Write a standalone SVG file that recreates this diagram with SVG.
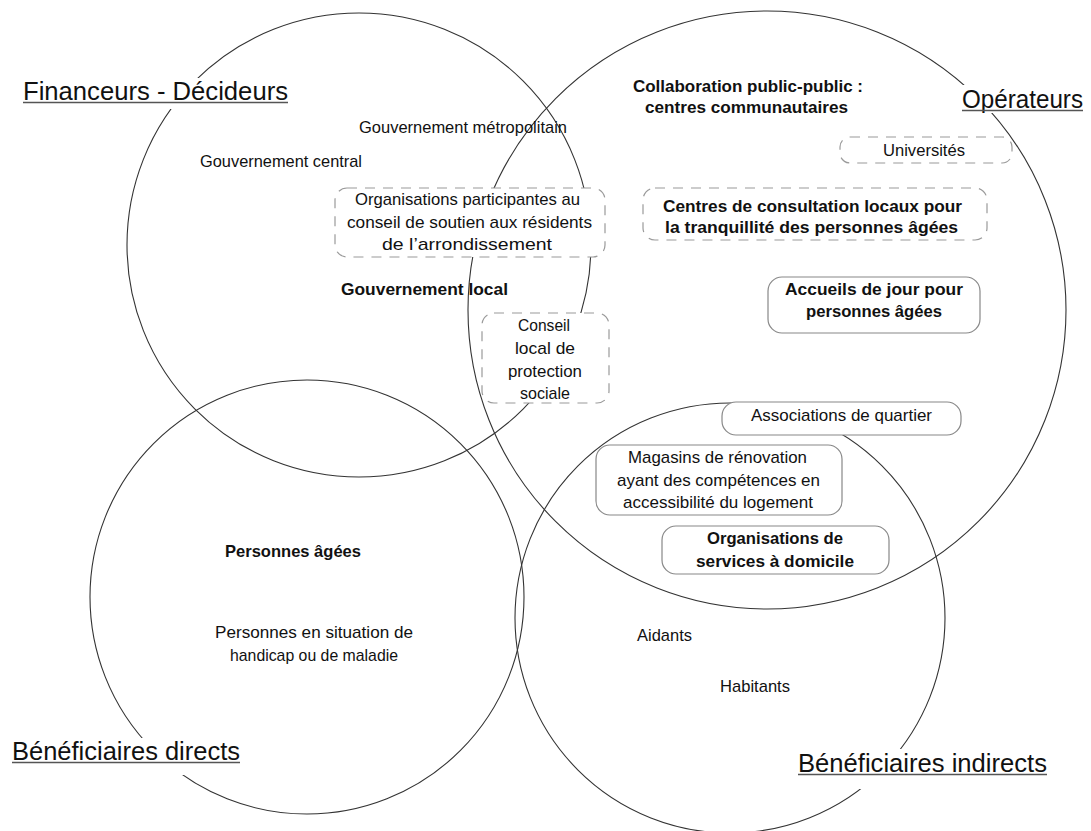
<svg xmlns="http://www.w3.org/2000/svg" width="1091" height="831" viewBox="0 0 1091 831">
<style>
.c{fill:none;stroke:#333;stroke-width:1.1}
.t{font-family:"Liberation Sans",Arial,sans-serif;font-size:17px;fill:#111}
.b{font-weight:bold;font-size:16.5px}
.h{font-family:"Liberation Sans",Arial,sans-serif;font-size:26px;fill:#111}
.ul{stroke:#555;stroke-width:1.4}
.bg{fill:#fff;stroke:none}
.dash{fill:#fff;stroke:#9a9a9a;stroke-width:1.2;stroke-dasharray:10 8}
.solid{fill:#fff;stroke:#888;stroke-width:1.2}
</style>
<rect width="1091" height="831" fill="#fff"/>
<g id="circles">
<circle class="c" cx="359" cy="245" r="232"/>
<circle class="c" cx="767" cy="310" r="299"/>
<circle class="c" cx="307" cy="597" r="217"/>
<circle class="c" cx="730" cy="618" r="215"/>
</g>
<g id="financeurs">
<rect class="bg" x="15" y="78" width="285" height="31"/>
<text class="h" x="23" y="100" textLength="265" lengthAdjust="spacingAndGlyphs">Financeurs - Décideurs</text>
<line class="ul" x1="23" y1="102.5" x2="288" y2="102.5"/>
</g>
<g id="operateurs">
<rect class="bg" x="955" y="85" width="136" height="28"/>
<text class="h" x="962" y="108" textLength="121" lengthAdjust="spacingAndGlyphs">Opérateurs</text>
<line class="ul" x1="962" y1="110.5" x2="1083" y2="110.5"/>
</g>
<g id="benef-directs">
<rect class="bg" x="5" y="738" width="245" height="37"/>
<text class="h" x="12" y="760" textLength="228" lengthAdjust="spacingAndGlyphs">Bénéficiaires directs</text>
<line class="ul" x1="12" y1="762.5" x2="240" y2="762.5"/>
</g>
<g id="benef-indirects">
<rect class="bg" x="790" y="749" width="265" height="40"/>
<text class="h" x="798" y="772" textLength="249" lengthAdjust="spacingAndGlyphs">Bénéficiaires indirects</text>
<line class="ul" x1="798" y1="774.5" x2="1047" y2="774.5"/>
</g>
<g id="gouv-metropolitain"><text class="t" x="359" y="133" textLength="208" lengthAdjust="spacingAndGlyphs">Gouvernement métropolitain</text></g>
<g id="gouv-central"><text class="t" x="200" y="167" textLength="162" lengthAdjust="spacingAndGlyphs">Gouvernement central</text></g>
<g id="org-participantes">
<rect class="dash" x="335" y="188" width="270" height="69" rx="12"/>
<text class="t" x="355" y="205" textLength="225" lengthAdjust="spacingAndGlyphs">Organisations participantes au</text>
<text class="t" x="347" y="228" textLength="245" lengthAdjust="spacingAndGlyphs">conseil de soutien aux résidents</text>
<text class="t" x="382" y="250" textLength="170" lengthAdjust="spacingAndGlyphs">de l’arrondissement</text>
</g>
<g id="gouv-local"><text class="t b" x="341" y="295" textLength="167" lengthAdjust="spacingAndGlyphs">Gouvernement local</text></g>
<g id="conseil-local">
<rect class="dash" x="482" y="313" width="127" height="90" rx="12"/>
<text class="t" x="518" y="331" textLength="52" lengthAdjust="spacingAndGlyphs">Conseil</text>
<text class="t" x="515" y="354" textLength="60" lengthAdjust="spacingAndGlyphs">local de</text>
<text class="t" x="508" y="377" textLength="74" lengthAdjust="spacingAndGlyphs">protection</text>
<text class="t" x="520" y="399" textLength="50" lengthAdjust="spacingAndGlyphs">sociale</text>
</g>
<g id="collaboration">
<text class="t b" x="633" y="92" textLength="230" lengthAdjust="spacingAndGlyphs">Collaboration public-public :</text>
<text class="t b" x="645" y="113" textLength="203" lengthAdjust="spacingAndGlyphs">centres communautaires</text>
</g>
<g id="universites">
<rect class="dash" x="840" y="137" width="172" height="26" rx="10"/>
<text class="t" x="883" y="156" textLength="82" lengthAdjust="spacingAndGlyphs">Universités</text>
</g>
<g id="centres-consultation">
<rect class="dash" x="643" y="188" width="344" height="52" rx="12"/>
<text class="t b" x="663" y="212" textLength="299" lengthAdjust="spacingAndGlyphs">Centres de consultation locaux pour</text>
<text class="t b" x="665" y="233" textLength="293" lengthAdjust="spacingAndGlyphs">la tranquillité des personnes âgées</text>
</g>
<g id="accueils">
<rect class="solid" x="768" y="277" width="212" height="56" rx="14"/>
<text class="t b" x="785" y="295" textLength="178" lengthAdjust="spacingAndGlyphs">Accueils de jour pour</text>
<text class="t b" x="806" y="317" textLength="136" lengthAdjust="spacingAndGlyphs">personnes âgées</text>
</g>
<g id="associations">
<rect class="solid" x="722" y="402" width="239" height="33" rx="14"/>
<text class="t" x="751" y="421" textLength="181" lengthAdjust="spacingAndGlyphs">Associations de quartier</text>
</g>
<g id="magasins">
<rect class="solid" x="596" y="445" width="246" height="70" rx="14"/>
<text class="t" x="628" y="463" textLength="179" lengthAdjust="spacingAndGlyphs">Magasins de rénovation</text>
<text class="t" x="617" y="486" textLength="203" lengthAdjust="spacingAndGlyphs">ayant des compétences en</text>
<text class="t" x="623" y="508" textLength="190" lengthAdjust="spacingAndGlyphs">accessibilité du logement</text>
</g>
<g id="services-domicile">
<rect class="solid" x="662" y="526" width="227" height="48" rx="14"/>
<text class="t b" x="707" y="544" textLength="136" lengthAdjust="spacingAndGlyphs">Organisations de</text>
<text class="t b" x="696" y="567" textLength="158" lengthAdjust="spacingAndGlyphs">services à domicile</text>
</g>
<g id="personnes-agees"><text class="t b" x="225" y="557" textLength="136" lengthAdjust="spacingAndGlyphs">Personnes âgées</text></g>
<g id="handicap">
<text class="t" x="215" y="638" textLength="198" lengthAdjust="spacingAndGlyphs">Personnes en situation de</text>
<text class="t" x="230" y="661" textLength="168" lengthAdjust="spacingAndGlyphs">handicap ou de maladie</text>
</g>
<g id="aidants"><text class="t" x="637" y="641" textLength="55" lengthAdjust="spacingAndGlyphs">Aidants</text></g>
<g id="habitants"><text class="t" x="720" y="692" textLength="70" lengthAdjust="spacingAndGlyphs">Habitants</text></g>
</svg>
